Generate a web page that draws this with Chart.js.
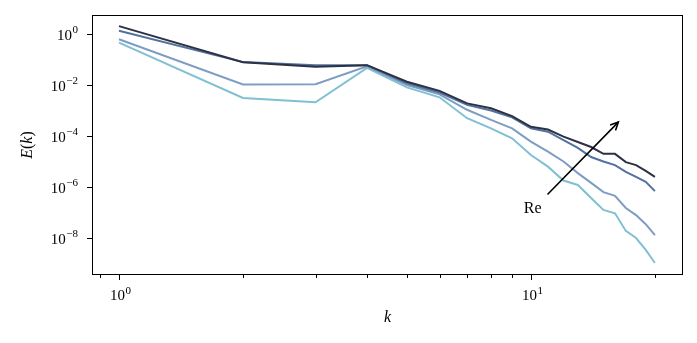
<!DOCTYPE html>
<html>
<head>
<meta charset="utf-8">
<script src="https://cdn.jsdelivr.net/npm/chart.js@4.4.0/dist/chart.umd.min.js"></script>
<style>
  html, body { margin: 0; padding: 0; background: #fff; }
</style>
</head>
<body>
<canvas id="spectrum" width="697" height="343"></canvas>
<script>
// wavenumbers k and energy spectra E(k), one array per Reynolds number (low -> high)
const wavenumbers = [1, 2, 3, 4, 5, 6, 7, 8, 9, 10, 11, 12, 13, 14, 15, 16, 17, 18, 19, 20];
const energyRe1 = [0.46, 3.1e-3, 2.1e-3, 4.7e-2, 8.1e-3, 3.3e-3, 5.0e-4, 2.0e-4, 8.1e-5, 1.8e-5,
                   6.3e-6, 1.8e-6, 1.2e-6, 3.7e-7, 1.26e-7, 9.3e-8, 1.9e-8, 1.0e-8, 3.4e-9, 1.05e-9];
const energyRe2 = [0.62, 1.05e-2, 1.07e-2, 5.4e-2, 1.0e-2, 4.3e-3, 1.07e-3, 4.3e-4, 2.0e-4, 6.0e-5,
                   2.45e-5, 1.0e-5, 3.5e-6, 1.45e-6, 6.3e-7, 4.5e-7, 1.5e-7, 7.9e-8, 3.5e-8, 1.3e-8];
const energyRe3 = [1.35, 7.9e-2, 6.0e-2, 6.0e-2, 1.17e-2, 5.1e-3, 1.66e-3, 1.0e-3, 5.4e-4, 2.0e-4,
                   1.48e-4, 6.9e-5, 3.4e-5, 1.5e-5, 1.0e-5, 7.2e-6, 3.9e-6, 2.5e-6, 1.6e-6, 6.9e-7];
const energyRe4 = [2.04, 7.8e-2, 5.2e-2, 6.0e-2, 1.35e-2, 5.9e-3, 1.9e-3, 1.23e-3, 6.0e-4, 2.3e-4,
                   1.8e-4, 9.5e-5, 5.8e-5, 3.7e-5, 2.0e-5, 2.0e-5, 9.5e-6, 7.2e-6, 4.3e-6, 2.5e-6];

const seriesColors = ['#80c0d2', '#7d9dc2', '#52719f', '#2c3243'];

// axis ticks
const xMajorTicks = [1, 10];
const xMajorLabels = [['10', '0'], ['10', '1']];
const xMinorTicks = [0.9, 2, 3, 4, 5, 6, 7, 8, 9, 20];
const yMajorTicks = [1, 1e-2, 1e-4, 1e-6, 1e-8];
const yMajorLabels = [['10', '0'], ['10', '\u22122'], ['10', '\u22124'], ['10', '\u22126'], ['10', '\u22128']];

// "Re" arrow, in data coordinates
const arrowFrom = {x: 11.0, y: 5.3e-7};
const arrowTo = {x: 16.3, y: 3.5e-4};
const arrowLabel = {x: 10.1, y: 1.4e-7, text: 'Re'};

const serif = '"Liberation Serif", "DejaVu Serif", serif';

function drawPower(ctx, base, exp, x, y, align) {
    // x is the right edge (align 'right') or the centre (align 'center'); y is the centre of the digits
    ctx.font = '15px ' + serif;
    const wb = ctx.measureText(base).width;
    ctx.font = '11px ' + serif;
    const we = ctx.measureText(exp).width;
    const total = wb + we + 0.5;
    let left = align === 'right' ? x - total : x - total / 2;
    ctx.textAlign = 'left';
    ctx.textBaseline = 'alphabetic';
    ctx.font = '15px ' + serif;
    ctx.fillText(base, left, y + 5);
    ctx.font = '11px ' + serif;
    ctx.fillText(exp, left + wb + 0.5, y - 1.5);
}

const axesPlugin = {
    id: 'mplAxes',
    afterDraw(chart) {
        const ctx = chart.ctx;
        const a = chart.chartArea;
        const xs = chart.scales.x;
        const ys = chart.scales.y;
        ctx.save();
        ctx.strokeStyle = '#000';
        ctx.fillStyle = '#000';
        ctx.lineWidth = 1;
        // frame
        ctx.strokeRect(Math.round(a.left) + 0.5, Math.round(a.top) + 0.5,
            Math.round(a.right - a.left) - 1, Math.round(a.bottom - a.top) - 1);

        // x ticks
        const xb = Math.round(a.bottom);
        xMinorTicks.forEach(function (v) {
            const px = Math.round(xs.getPixelForValue(v)) + 0.5;
            ctx.beginPath(); ctx.moveTo(px, xb); ctx.lineTo(px, xb + 3); ctx.stroke();
        });
        xMajorTicks.forEach(function (v, i) {
            const px = Math.round(xs.getPixelForValue(v)) + 0.5;
            ctx.beginPath(); ctx.moveTo(px, xb); ctx.lineTo(px, xb + 5); ctx.stroke();
            drawPower(ctx, xMajorLabels[i][0], xMajorLabels[i][1], px + 1, xb + 20, 'center');
        });

        // y ticks
        const yl = Math.round(a.left);
        yMajorTicks.forEach(function (v, i) {
            const py = Math.round(ys.getPixelForValue(v)) + 0.5;
            ctx.beginPath(); ctx.moveTo(yl, py); ctx.lineTo(yl - 5, py); ctx.stroke();
            drawPower(ctx, yMajorLabels[i][0], yMajorLabels[i][1], yl - 14, py, 'right');
        });

        // axis titles
        ctx.font = 'italic 16px ' + serif;
        ctx.textAlign = 'center';
        ctx.textBaseline = 'middle';
        ctx.fillText('k', (a.left + a.right) / 2, 318);
        ctx.save();
        ctx.translate(28, (a.top + a.bottom) / 2);
        ctx.rotate(-Math.PI / 2);
        const parts = [['E', true], ['(', false], ['k', true], [')', false]];
        let w = 0;
        parts.forEach(function (p) {
            ctx.font = (p[1] ? 'italic ' : '') + '16px ' + serif;
            w += ctx.measureText(p[0]).width;
        });
        let cx = -w / 2;
        ctx.textAlign = 'left';
        parts.forEach(function (p) {
            ctx.font = (p[1] ? 'italic ' : '') + '16px ' + serif;
            ctx.fillText(p[0], cx, 0);
            cx += ctx.measureText(p[0]).width;
        });
        ctx.restore();

        // Re arrow
        const x0 = xs.getPixelForValue(arrowFrom.x), y0 = ys.getPixelForValue(arrowFrom.y);
        const x1 = xs.getPixelForValue(arrowTo.x), y1 = ys.getPixelForValue(arrowTo.y);
        ctx.lineWidth = 1.6;
        ctx.lineCap = 'round';
        ctx.beginPath(); ctx.moveTo(x0, y0); ctx.lineTo(x1, y1); ctx.stroke();
        const ang = Math.atan2(y1 - y0, x1 - x0);
        const hl = 8;
        ctx.beginPath();
        ctx.moveTo(x1 - hl * Math.cos(ang - 0.45), y1 - hl * Math.sin(ang - 0.45));
        ctx.lineTo(x1, y1);
        ctx.lineTo(x1 - hl * Math.cos(ang + 0.45), y1 - hl * Math.sin(ang + 0.45));
        ctx.stroke();
        ctx.font = '16px ' + serif;
        ctx.textAlign = 'center';
        ctx.textBaseline = 'middle';
        ctx.fillText(arrowLabel.text, xs.getPixelForValue(arrowLabel.x), ys.getPixelForValue(arrowLabel.y));
        ctx.restore();
    }
};

function toPoints(values) {
    return wavenumbers.map(function (k, i) { return {x: k, y: values[i]}; });
}

const allSeries = [energyRe1, energyRe2, energyRe3, energyRe4];
// dataset 0 is drawn on top in Chart.js, so list the highest Re first
const datasets = allSeries.map(function (vals, i) {
    return {
        data: toPoints(vals),
        borderColor: seriesColors[i],
        borderWidth: 2,
        pointRadius: 0,
        tension: 0,
        fill: false
    };
}).reverse();

new Chart(document.getElementById('spectrum').getContext('2d'), {
    type: 'line',
    data: {datasets: datasets},
    options: {
        responsive: false,
        animation: false,
        devicePixelRatio: 1,
        layout: {padding: {left: 92, right: 14, top: 15, bottom: 68}},
        plugins: {legend: {display: false}, tooltip: {enabled: false}},
        scales: {
            x: {type: 'logarithmic', min: 0.86, max: 23.4, display: false},
            y: {type: 'logarithmic', min: 3.55e-10, max: 5.56, display: false}
        }
    },
    plugins: [axesPlugin]
});
</script>
</body>
</html>
